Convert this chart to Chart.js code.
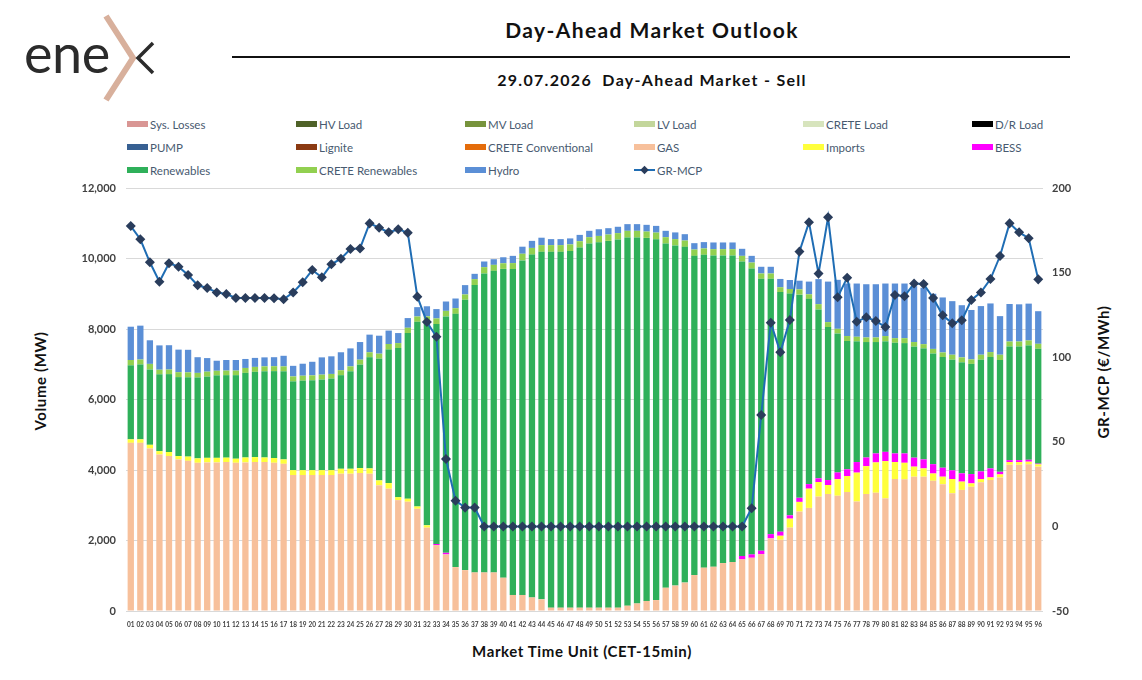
<!DOCTYPE html>
<html>
<head>
<meta charset="utf-8">
<script src="https://cdn.jsdelivr.net/npm/chart.js@4.4.1/dist/chart.umd.min.js"></script>
<style>
  html, body { margin: 0; padding: 0; background: #fff; }
  body { width: 1142px; height: 680px; position: relative; overflow: hidden; font-family: Lato, "Noto Sans", sans-serif; }
  #chart { position: absolute; left: 0; top: 0; }
  .abs { position: absolute; white-space: nowrap; }
  #title { left: 402px; width: 500px; top: 17px; text-align: center; font-weight: 700; font-size: 21px; letter-spacing: 1.4px; color: #111; }
  #rule { left: 232px; top: 56px; width: 838px; height: 2px; background: #111; }
  #subtitle { left: 402px; width: 500px; top: 70px; text-align: center; font-weight: 700; font-size: 16px; letter-spacing: 1.3px; color: #111; }
  .axis-title { font-weight: 700; font-size: 15px; letter-spacing: 0.6px; color: #111; }
  #legend { position: absolute; left: 127px; top: 117px; display: grid; grid-template-columns: repeat(6, 169px); row-gap: 9px; }
  .item { display: flex; align-items: center; height: 14px; font-size: 11.5px; color: #485a70; }
  .swatch { width: 21px; height: 6px; margin-right: 2px; }
</style>
</head>
<body>
<svg class="abs" style="left:0;top:0" width="170" height="110">
  <text x="24" y="73" font-family="Lato" font-weight="400" font-size="54" fill="#2b2b2b" letter-spacing="-0.5">ene</text>
  <polyline points="106,16 133,58 106,100" fill="none" stroke="#d8b09c" stroke-width="6"/>
  <polyline points="153,43 138,58 153,73" fill="none" stroke="#2b2b2b" stroke-width="3.5"/>
</svg>
<div id="title" class="abs">Day-Ahead Market Outlook</div>
<div id="rule" class="abs"></div>
<div id="subtitle" class="abs">29.07.2026&nbsp; Day-Ahead Market - Sell</div>
<div id="legend"></div>
<div class="abs axis-title" style="left:40px;top:381px;transform:translate(-50%,-50%) rotate(-90deg)">Volume (MW)</div>
<div class="abs axis-title" style="left:1103px;top:372px;transform:translate(-50%,-50%) rotate(-90deg)">GR-MCP (€/MWh)</div>
<div class="abs axis-title" style="left:582px;top:651px;transform:translate(-50%,-50%)">Market Time Unit (CET-15min)</div>
<canvas id="chart" width="1142" height="680"></canvas>
<script>
// market time units 01..96
const mtu = Array.from({ length: 96 }, (_, i) => String(i + 1).padStart(2, '0'));

// sell side volumes (MW)
const gas = [
  4770, 4770, 4610, 4440, 4395, 4300, 4260, 4205, 4215, 4215,
  4225, 4205, 4215, 4225, 4225, 4205, 4175, 3855, 3855, 3855,
  3855, 3855, 3895, 3895, 3915, 3895, 3565, 3470, 3145, 3100,
  2900, 2365, 1870, 1605, 1245, 1160, 1095, 1095, 1095, 945,
  455, 455, 385, 330, 95, 95, 95, 95, 95, 95,
  95, 95, 150, 215, 285, 310, 660, 720, 805, 1020,
  1230, 1255, 1360, 1390, 1465, 1510, 1615, 2060, 2020, 2365,
  2820, 2925, 3245, 3320, 3270, 3375, 3105, 3320, 3355, 3195,
  3745, 3735, 3810, 3810, 3695, 3595, 3340, 3435, 3525, 3650,
  3715, 3790, 4150, 4150, 4160, 4095
];
const imports = [
  100, 100, 105, 95, 115, 95, 120, 125, 130, 130,
  125, 115, 140, 140, 130, 135, 125, 140, 140, 140,
  140, 140, 140, 140, 140, 150, 140, 160, 85, 85,
  65, 65, 0, 0, 0, 0, 0, 0, 0, 0,
  0, 0, 0, 0, 0, 0, 0, 0, 0, 0,
  0, 0, 0, 0, 0, 0, 0, 0, 0, 0,
  0, 0, 0, 0, 0, 0, 0, 0, 115, 255,
  275, 545, 415, 255, 470, 455, 820, 790, 860, 1055,
  480, 470, 285, 235, 205, 215, 405, 235, 95, 95,
  75, 85, 75, 75, 75, 65
];
const bess = [
  0, 0, 0, 0, 0, 0, 0, 0, 0, 0,
  0, 0, 0, 0, 0, 0, 0, 0, 0, 0,
  0, 0, 0, 0, 0, 0, 0, 0, 0, 0,
  0, 0, 30, 45, 0, 0, 0, 0, 0, 0,
  0, 0, 0, 0, 0, 0, 0, 0, 0, 0,
  0, 0, 0, 0, 0, 0, 0, 0, 0, 0,
  0, 0, 0, 0, 95, 95, 95, 120, 115, 95,
  115, 130, 105, 140, 190, 190, 300, 245, 255, 265,
  245, 265, 255, 255, 265, 255, 245, 235, 265, 215,
  255, 75, 55, 55, 55, 20
];
const renewables = [
  2100, 2125, 2135, 2180, 2210, 2240, 2250, 2295, 2305, 2340,
  2340, 2370, 2400, 2420, 2445, 2465, 2500, 2520, 2540, 2550,
  2570, 2600, 2655, 2765, 2935, 3155, 3455, 3785, 4230, 4700,
  5240, 5770, 6240, 6705, 7185, 7670, 8150, 8480, 8555, 8760,
  9245, 9490, 9725, 9860, 10095, 10095, 10115, 10215, 10330, 10365,
  10405, 10445, 10445, 10380, 10300, 10235, 9765, 9650, 9525, 9055,
  8875, 8830, 8725, 8695, 8355, 8110, 7715, 7245, 6800, 6290,
  5765, 5255, 4790, 4340, 3945, 3640, 3425, 3275, 3160, 3135,
  3140, 3130, 3150, 3150, 3140, 3140, 3140, 3150, 3125, 3170,
  3160, 3170, 3225, 3225, 3245, 3260
];
const creteRenewables = [
  150, 140, 160, 130, 130, 140, 140, 130, 140, 130,
  130, 130, 140, 140, 140, 140, 140, 140, 140, 140,
  140, 130, 140, 140, 140, 140, 140, 160, 140, 150,
  150, 160, 160, 160, 160, 150, 170, 180, 170, 160,
  170, 190, 190, 190, 190, 190, 190, 180, 180, 180,
  180, 180, 190, 190, 180, 190, 180, 180, 180, 180,
  180, 180, 180, 180, 160, 170, 150, 150, 135, 130,
  150, 130, 150, 140, 130, 140, 130, 130, 130, 150,
  130, 140, 130, 120, 130, 130, 140, 140, 130, 140,
  140, 150, 140, 140, 140, 140
];
const hydro = [
  945, 960, 670, 690, 690, 640, 640, 445, 385, 285,
  300, 300, 255, 255, 255, 255, 300, 300, 340, 385,
  490, 500, 510, 510, 500, 500, 510, 380, 285, 275,
  265, 285, 265, 265, 275, 265, 150, 160, 160, 170,
  205, 200, 200, 210, 170, 170, 170, 180, 180, 190,
  180, 180, 190, 190, 190, 190, 180, 190, 180, 180,
  180, 190, 190, 190, 200, 190, 190, 190, 235, 255,
  245, 360, 710, 1150, 1390, 1490, 1510, 1510, 1510, 1490,
  1550, 1550, 1585, 1600, 1565, 1560, 1520, 1480, 1400, 1380,
  1380, 1095, 1065, 1055, 1045, 925
];
// GR-MCP (EUR/MWh)
const mcp = [
  177.5, 169.7, 156.1, 144.6, 155.5, 153.5, 148.6, 142.5, 140.9, 138.3,
  137.3, 135, 135, 135, 135, 134.8, 134.2, 138.3, 144.3, 151.5,
  147.2, 154.9, 158.2, 163.9, 164.3, 179.1, 176.5, 173.8, 175.6, 173.6,
  135.8, 120.8, 112.1, 39.8, 15.2, 11.1, 11.1, 0, 0, 0,
  0, 0, 0, 0, 0, 0, 0, 0, 0, 0,
  0, 0, 0, 0, 0, 0, 0, 0, 0, 0,
  0, 0, 0, 0, 0, 10.7, 65.8, 120.4, 102.9, 122,
  162.4, 179.7, 149.4, 182.7, 135.4, 147, 121, 123.6, 121.4, 117.8,
  136.8, 136, 143.5, 143.3, 135, 124.8, 120, 121.8, 133.8, 138.3,
  146.2, 159.8, 179.1, 173.8, 170.3, 146
];

const barSeries = [
  { label: 'Sys. Losses', data: [], color: '#d99694' },
  { label: 'HV Load', data: [], color: '#4f6228' },
  { label: 'MV Load', data: [], color: '#77933c' },
  { label: 'LV Load', data: [], color: '#c3d69b' },
  { label: 'CRETE Load', data: [], color: '#d7e4bd' },
  { label: 'D/R Load', data: [], color: '#000000' },
  { label: 'PUMP', data: [], color: '#376092' },
  { label: 'Lignite', data: [], color: '#8b3a12' },
  { label: 'CRETE Conventional', data: [], color: '#e46c0a' },
  { label: 'GAS', data: gas, color: '#f7c09b' },
  { label: 'Imports', data: imports, color: '#ffff3c' },
  { label: 'BESS', data: bess, color: '#ff00ff' },
  { label: 'Renewables', data: renewables, color: '#2fb05a' },
  { label: 'CRETE Renewables', data: creteRenewables, color: '#92d050' },
  { label: 'Hydro', data: hydro, color: '#5b8fd6' }
];

const datasets = barSeries.map(s => ({
  type: 'bar',
  label: s.label,
  data: s.data,
  backgroundColor: s.color,
  yAxisID: 'y',
  stack: 'sell',
  barPercentage: 0.66,
  categoryPercentage: 1,
  order: 2
}));
datasets.push({
  type: 'line',
  label: 'GR-MCP',
  data: mcp,
  yAxisID: 'y1',
  borderColor: '#1f6db4',
  borderWidth: 2,
  pointStyle: 'rectRot',
  pointRadius: 3.6,
  pointBackgroundColor: '#2a3d5c',
  pointBorderColor: '#2a3d5c',
  tension: 0,
  order: 1
});

const tickFont = { family: 'Lato', weight: 'bold', size: 11 };

new Chart(document.getElementById('chart'), {
  data: { labels: mtu, datasets },
  options: {
    responsive: false,
    animation: false,
    layout: { padding: { left: 66, right: 39, top: 188, bottom: 49 } },
    plugins: { legend: { display: false }, title: { display: false }, tooltip: { enabled: false } },
    scales: {
      x: {
        stacked: true,
        grid: { display: false },
        border: { display: false },
        ticks: { autoSkip: false, maxRotation: 0, minRotation: 0, padding: 2, color: '#404040', font: { family: 'Lato', weight: 'bold', size: 6.5 } },
        afterFit: s => { s.height = 20; }
      },
      y: {
        stacked: true,
        position: 'left',
        min: 0, max: 12000,
        ticks: { stepSize: 2000, padding: 10, color: '#404040', font: tickFont, callback: v => v.toLocaleString('en-US') },
        grid: { color: '#d9d9d9', drawTicks: false },
        border: { display: false },
        afterFit: s => { s.width = 60; }
      },
      y1: {
        position: 'right',
        min: -50, max: 200,
        ticks: { stepSize: 50, padding: 9, color: '#404040', font: tickFont },
        grid: { drawOnChartArea: false, drawTicks: false },
        border: { display: false },
        afterFit: s => { s.width = 60; }
      }
    }
  }
});

// legend laid out in six columns like the report
const legend = document.getElementById('legend');
datasets.forEach(ds => {
  const item = document.createElement('div');
  item.className = 'item';
  if (ds.type === 'line') {
    item.innerHTML = '<svg width="21" height="10" style="margin-right:2px"><line x1="0" y1="5" x2="21" y2="5" stroke="#1f6db4" stroke-width="2"/><rect x="7.5" y="2" width="6" height="6" transform="rotate(45 10.5 5)" fill="#2a3d5c"/></svg>';
  } else {
    item.innerHTML = '<span class="swatch" style="background:' + ds.backgroundColor + '"></span>';
  }
  item.appendChild(document.createTextNode(ds.label));
  legend.appendChild(item);
});
</script>
</body>
</html>
